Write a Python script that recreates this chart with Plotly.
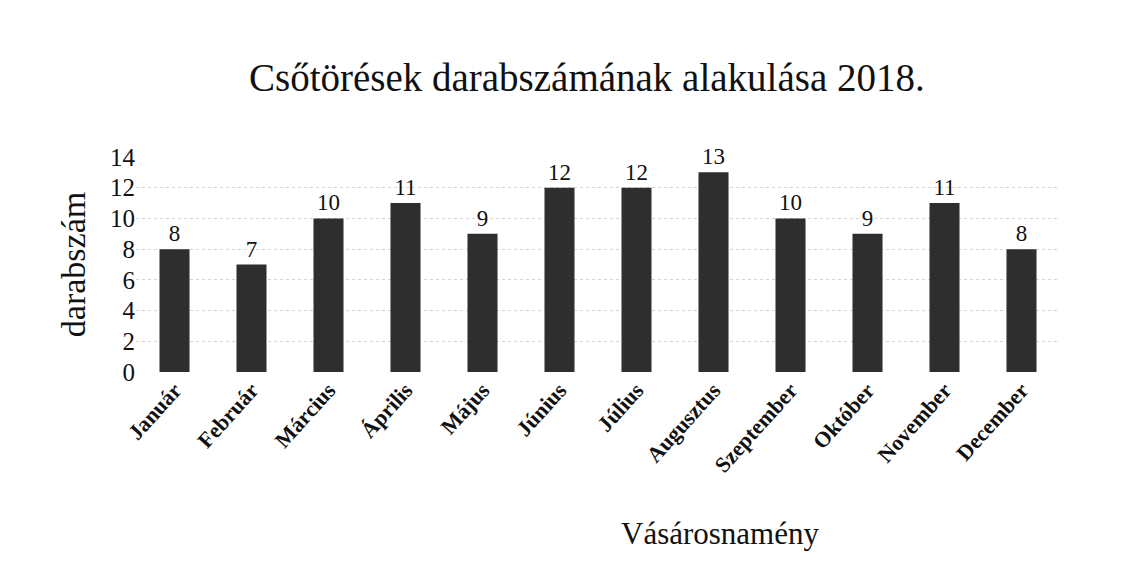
import plotly.graph_objects as go

months = ["Január", "Február", "Március", "Április", "Május", "Június",
          "Július", "Augusztus", "Szeptember", "Október", "November", "December"]
counts = [8, 7, 10, 11, 9, 12, 12, 13, 10, 9, 11, 8]
y_ticks = [0, 2, 4, 6, 8, 10, 12, 14]

font_family = "Liberation Serif, Times New Roman, serif"

fig = go.Figure(go.Bar(
    x=months, y=counts,
    marker=dict(color="#2e2e2e", line=dict(width=0)),
    text=[str(v) for v in counts], textposition="outside",
    textfont=dict(family=font_family, size=23, color="#111"),
    cliponaxis=False,
))

fig.update_layout(
    width=1135, height=578,
    paper_bgcolor="white", plot_bgcolor="white",
    margin=dict(l=128, r=83, t=149, b=214),
    bargap=0.61,
    showlegend=False,
    title=dict(text="Csőtörések darabszámának alakulása 2018.",
               x=0.51, xanchor="center", y=0.88, yanchor="middle",
               font=dict(family=font_family, size=39, color="#111")),
    font=dict(family=font_family, color="#111"),
    annotations=[dict(text="Vásárosnamény", xref="paper", yref="paper",
                      x=(712 - 128) / (1135 - 128 - 83), y=-(525 - 364) / 215,
                      xanchor="center", yanchor="middle", showarrow=False,
                      font=dict(family=font_family, size=31, color="#111"))],
)

fig.update_yaxes(
    range=[0, 14], tickvals=y_ticks,
    tickfont=dict(family=font_family, size=25, color="#111"),
    showgrid=True, gridcolor="#d4d4d4", griddash="dot", gridwidth=1,
    zeroline=False, showline=False, ticks="", ticklen=0,
    title=dict(text="darabszám", font=dict(family=font_family, size=34, color="#111"),
               standoff=14),
)
fig.update_xaxes(
    tickangle=-48,
    tickfont=dict(family=font_family, size=22, color="#111", weight="bold"),
    showgrid=False, showline=False, ticks="",
)

fig.write_html("out.html")
